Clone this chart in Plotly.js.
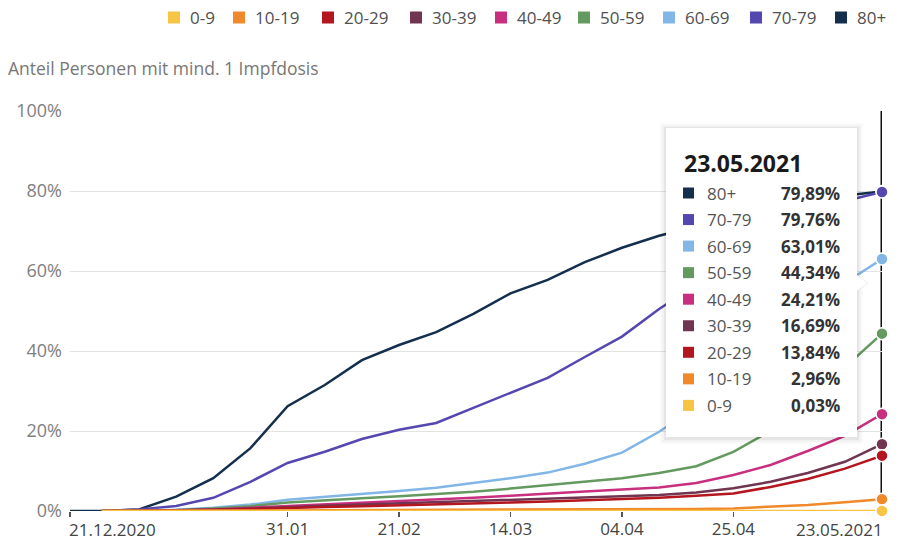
<!DOCTYPE html>
<html>
<head>
<meta charset="utf-8">
<script src="https://cdn.plot.ly/plotly-3.0.1.min.js"></script>
<style>html,body{margin:0;padding:0;background:#fff;}#chart{width:900px;height:548px;}</style>
</head>
<body>
<div id="chart"></div>
<script>
// ---- data ----
const dates = ['2020-12-21','2020-12-27','2021-01-03','2021-01-10','2021-01-17','2021-01-24','2021-01-31',
  '2021-02-07','2021-02-14','2021-02-21','2021-02-28','2021-03-07','2021-03-14','2021-03-21','2021-03-28',
  '2021-04-04','2021-04-11','2021-04-18','2021-04-25','2021-05-02','2021-05-09','2021-05-16','2021-05-23'];
const groups = ['0-9','10-19','20-29','30-39','40-49','50-59','60-69','70-79','80+'];
const v0_9   = [null,0,0,0,0,0,0,0,0.01,0.01,0.01,0.01,0.01,0.01,0.01,0.02,0.02,0.02,0.02,0.02,0.03,0.03,0.03];
const v10_19 = [null,0,0,0.02,0.05,0.1,0.15,0.2,0.22,0.25,0.28,0.3,0.32,0.35,0.38,0.4,0.42,0.5,0.65,1.0,1.5,2.2,2.96];
const v20_29 = [null,0,0.03,0.1,0.25,0.5,0.8,1.0,1.2,1.4,1.6,1.8,2.1,2.4,2.7,3.0,3.3,3.8,4.4,6.0,8.0,10.6,13.84];
const v30_39 = [null,0,0.05,0.1,0.3,0.6,1.0,1.3,1.6,1.9,2.2,2.5,2.8,3.1,3.4,3.7,4.0,4.6,5.7,7.3,9.5,12.3,16.69];
const v40_49 = [null,0,0.05,0.15,0.4,0.8,1.3,1.7,2.1,2.5,2.9,3.3,3.8,4.4,4.9,5.4,5.9,7.0,9.0,11.5,15.0,18.8,24.21];
const v50_59 = [null,0,0.05,0.2,0.6,1.2,2.1,2.7,3.2,3.7,4.2,4.8,5.6,6.5,7.3,8.2,9.5,11.2,14.8,20.0,27.5,36.0,44.34];
const v60_69 = [null,0,0.1,0.3,0.8,1.6,2.8,3.5,4.3,5.0,5.8,7.0,8.2,9.6,11.8,14.6,19.8,26.0,34.0,42.0,50.0,57.0,63.01];
const v70_79 = [null,0,0.4,1.25,3.3,7.3,12.0,14.8,18.0,20.3,22.0,25.8,29.5,33.3,38.5,43.6,50.5,56.5,62.5,68.5,73.5,77.5,79.76];
const v80p   = [0,0,0.4,3.6,8.2,15.7,26.2,31.5,37.7,41.5,44.7,49.3,54.4,57.8,62.2,65.8,68.8,71.2,73.3,75.4,77.3,78.9,79.89];
const series = [v0_9,v10_19,v20_29,v30_39,v40_49,v50_59,v60_69,v70_79,v80p];
const tickVals = ['2021-01-31','2021-02-21','2021-03-14','2021-04-04','2021-04-25'];
const tickText = ['31.01','21.02','14.03','04.04','25.04'];
const firstLabel = '21.12.2020';
const lastLabel = '23.05.2021';
const yTicks = [0,20,40,60,80,100];

// ---- styles / layout ----
const colors = ['#f7c443','#f0892a','#b3161f','#703550','#c8307f','#64995f','#82b6e6','#5547b0','#142e4d'];
const FONT = 'Open Sans, Noto Sans, sans-serif';
const legendLeft = [168,233,322,410,495,578,663,750,835]; // px, left edge of legend squares

// plot area geometry (px)
const L = 70, R = 882, T = 111, B = 511;
const px = p => (p - L) / (R - L);
const py = p => (B - p) / (B - T);

const traces = [];
const n = dates.length;
// lines drawn from oldest group first (80+ at bottom), 0-9 last
for (let i = groups.length - 1; i >= 0; i--) {
  traces.push({
    type: 'scatter', mode: 'lines', x: dates, y: series[i], name: groups[i],
    line: {color: colors[i], width: 2.5}, cliponaxis: false, showlegend: false, hoverinfo: 'skip'
  });
}
// end-of-series dots
for (let i = groups.length - 1; i >= 0; i--) {
  traces.push({
    type: 'scatter', mode: 'markers', x: [dates[n - 1]], y: [series[i][n - 1]], name: groups[i],
    marker: {color: colors[i], size: 12, opacity: 1, line: {color: '#ffffff', width: 1.5}},
    cliponaxis: false, showlegend: false, hoverinfo: 'skip'
  });
}

const shapes = [];
const annotations = [];

// legend (squares + labels)
groups.forEach((g, i) => {
  shapes.push({type: 'rect', xref: 'paper', yref: 'paper', x0: px(legendLeft[i]), x1: px(legendLeft[i] + 12),
    y0: py(23.5), y1: py(11.5), fillcolor: colors[i], line: {width: 0}});
  annotations.push({xref: 'paper', yref: 'paper', x: px(legendLeft[i] + 20), y: py(17.5), xanchor: 'left', yanchor: 'middle',
    text: g, showarrow: false, font: {family: FONT, size: 17, color: '#505050'}});
});

// hover spike line
shapes.push({type: 'line', xref: 'x', yref: 'paper', x0: dates[n - 1], x1: dates[n - 1],
  y0: 0, y1: 1, line: {color: '#111', width: 3}, layer: 'below'});

// first & last x labels
annotations.push({xref: 'x', yref: 'paper', x: dates[0], y: 0, yshift: -18, xanchor: 'left', yanchor: 'middle',
  text: firstLabel, showarrow: false, xshift: -3, font: {family: FONT, size: 17, color: '#444'}});
annotations.push({xref: 'x', yref: 'paper', x: dates[n - 1], y: 0, yshift: -18, xanchor: 'right', yanchor: 'middle',
  text: lastLabel, showarrow: false, xshift: 3, font: {family: FONT, size: 17, color: '#444'}});

// tooltip box
const bx0 = 666, bx1 = 857, by0 = 128, by1 = 437;
[[6, 'rgba(0,0,0,0.02)'], [4, 'rgba(0,0,0,0.03)'], [2, 'rgba(0,0,0,0.05)']].forEach(([e, c]) => {
  shapes.push({type: 'rect', xref: 'paper', yref: 'paper', x0: px(bx0 - e), x1: px(bx1 + e), y0: py(by1 + e + 1), y1: py(by0 - e + 1),
    fillcolor: c, line: {width: 0}, layer: 'above'});
});
shapes.push({type: 'path', xref: 'paper', yref: 'paper',
  path: `M ${px(bx1 - 1)} ${py(274)} L ${px(868)} ${py(283)} L ${px(bx1 - 1)} ${py(292)} Z`,
  fillcolor: '#fff', line: {color: 'rgba(0,0,0,0.07)', width: 1}, layer: 'above'});
shapes.push({type: 'rect', xref: 'paper', yref: 'paper', x0: px(bx0), x1: px(bx1), y0: py(by1), y1: py(by0),
  fillcolor: '#fff', line: {width: 0}, layer: 'above'});

annotations.push({xref: 'paper', yref: 'paper', x: px(682), y: py(163), xanchor: 'left', yanchor: 'middle',
  text: '<b>' + lastLabel + '</b>', showarrow: false, font: {family: FONT, size: 23, color: '#1a1a1a'}});
const last = series.map(s => s[s.length - 1]);
for (let r = 0; r < groups.length; r++) {
  const i = groups.length - 1 - r;
  const yc = 193 + r * 26.55;
  shapes.push({type: 'rect', xref: 'paper', yref: 'paper', x0: px(683), x1: px(694), y0: py(yc + 5.5), y1: py(yc - 5.5),
    fillcolor: colors[i], line: {width: 0}, layer: 'above'});
  annotations.push({xref: 'paper', yref: 'paper', x: px(705), y: py(yc), xanchor: 'left', yanchor: 'middle',
    text: groups[i], showarrow: false, font: {family: FONT, size: 17, color: '#555'}});
  annotations.push({xref: 'paper', yref: 'paper', x: px(842), y: py(yc), xanchor: 'right', yanchor: 'middle',
    text: '<b>' + last[i].toFixed(2).replace('.', ',') + '%</b>', showarrow: false,
    font: {family: FONT, size: 17, color: '#333'}});
}

const layout = {
  width: 900, height: 548,
  margin: {l: L, r: 900 - R, t: T, b: 548 - B, pad: 0},
  paper_bgcolor: '#fff', plot_bgcolor: '#fff',
  font: {family: FONT, size: 15, color: '#444'},
  title: {text: 'Anteil Personen mit mind. 1 Impfdosis', xref: 'container', yref: 'container',
    x: 8 / 900, xanchor: 'left', y: 1 - 69 / 548, yanchor: 'middle', font: {family: FONT, size: 17.5, color: '#777'}},
  showlegend: false,
  xaxis: {type: 'date', range: [dates[0], dates[n - 1]], showgrid: false, zeroline: false, showline: false,
    tickmode: 'array', tickvals: [dates[0]].concat(tickVals), ticktext: [''].concat(tickText),
    ticks: 'outside', ticklen: 5, tickwidth: 1.5, tickcolor: '#555', ticklabelstandoff: -2,
    tickfont: {family: FONT, size: 17, color: '#444'}, fixedrange: true},
  yaxis: {range: [0, 100], tickmode: 'array', tickvals: yTicks, ticktext: yTicks.map(v => v + '%'),
    showgrid: true, gridcolor: '#e3e3e3', gridwidth: 1, zeroline: false, showline: false, ticks: '',
    tickfont: {family: FONT, size: 18, color: '#808080'}, ticklabelstandoff: 7, fixedrange: true},
  shapes: shapes, annotations: annotations, hovermode: false
};

Plotly.newPlot('chart', traces, layout, {displayModeBar: false, staticPlot: true});
</script>
</body>
</html>
